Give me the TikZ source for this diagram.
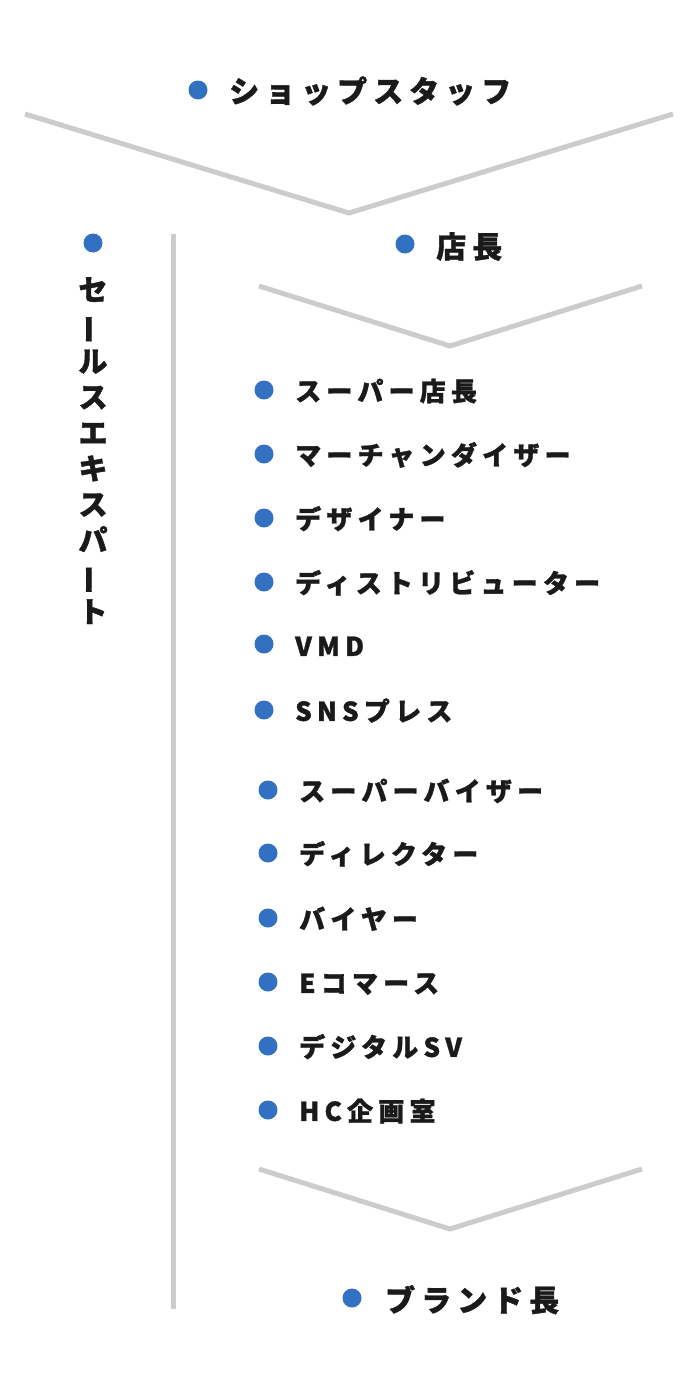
\documentclass[tikz,border=0pt]{standalone}
\usepackage{fontspec}
\newfontfamily\jp{Noto Sans CJK JP}[LetterSpace=20, BoldFeatures={FakeBold=1.2}]
\newfontfamily\jpv{Noto Sans CJK JP}[BoldFeatures={FakeBold=1.2}]
\definecolor{dotblue}{RGB}{50,112,193}
\definecolor{linegray}{RGB}{204,204,204}
\definecolor{ink}{RGB}{26,26,26}
\tikzset{
  dotm/.style={circle, fill=dotblue, minimum size=19pt, inner sep=0pt, draw=none},
  titletext/.style={anchor=west, inner sep=0pt, text=ink, font=\jp\bfseries\fontsize{30}{36}\selectfont, text height=26.4pt, text depth=3.6pt},
  itemtext/.style={anchor=west, inner sep=0pt, text=ink, font=\jp\bfseries\fontsize{26}{31}\selectfont, text height=22.9pt, text depth=3.1pt},
  vtext/.style={anchor=north, inner sep=0pt, text=ink, align=center, font=\jpv\bfseries\fontsize{29}{35.8}\selectfont},
  vline/.style={draw=linegray, line width=5pt, line join=miter},
}
\begin{document}
\begin{tikzpicture}[x=1pt,y=-1pt]
\useasboundingbox (0,0) rectangle (698,1384);
% chevrons
\coordinate (v1l) at (25,114);
\coordinate (v1b) at (349,213);
\coordinate (v1r) at (673,114);
\draw[vline] (v1l) -- (v1b) -- (v1r);
\coordinate (v2l) at (259,286);
\coordinate (v2b) at (450,346);
\coordinate (v2r) at (642,286);
\draw[vline] (v2l) -- (v2b) -- (v2r);
\coordinate (v3l) at (259,1169);
\coordinate (v3b) at (450,1229);
\coordinate (v3r) at (642,1169);
\draw[vline] (v3l) -- (v3b) -- (v3r);
% vertical bar
\coordinate (bt) at (173,234);
\coordinate (bb) at (173,1309);
\draw[vline] (bt) -- (bb);
% titles
\node[dotm] (d0) at (198,90) {};
\node[titletext] (t0) at (229,91) {ショップスタッフ};
\node[dotm] (d1) at (405,244) {};
\node[titletext] (t1) at (436,246.5) {店長};
\node[dotm] (d2) at (352,1298) {};
\node[titletext] (t2) at (385,1300) {ブランド長};
% left vertical label
\node[dotm] (dl) at (93,243) {};
\node[vtext] (vl) at (93,277) {\rule[-3.5pt]{0pt}{25.5pt}セ\\\rotatebox[origin=c]{90}{ー}\\ル\\ス\\エ\\キ\\ス\\パ\\\rotatebox[origin=c]{90}{ー}\\ト};
% list group 1
\node[dotm] (a1) at (264,390) {};
\node[itemtext] (b1) at (295,391) {スーパー店長};
\node[dotm] (a2) at (264,454) {};
\node[itemtext] (b2) at (295,455) {マーチャンダイザー};
\node[dotm] (a3) at (264,518) {};
\node[itemtext] (b3) at (295,519) {デザイナー};
\node[dotm] (a4) at (264,582) {};
\node[itemtext] (b4) at (295,583) {ディストリビューター};
\node[dotm] (a5) at (264,644) {};
\node[itemtext] (b5) at (295,646) {VMD};
\node[dotm] (a6) at (264,710) {};
\node[itemtext] (b6) at (295,711) {SNSプレス};
% list group 2
\node[dotm] (a7) at (268,790) {};
\node[itemtext] (b7) at (299,791) {スーパーバイザー};
\node[dotm] (a8) at (268,853) {};
\node[itemtext] (b8) at (299,854) {ディレクター};
\node[dotm] (a9) at (268,918) {};
\node[itemtext] (b9) at (299,919) {バイヤー};
\node[dotm] (a10) at (268,982) {};
\node[itemtext] (b10) at (299,983) {Eコマース};
\node[dotm] (a11) at (268,1046) {};
\node[itemtext] (b11) at (299,1047) {デジタルSV};
\node[dotm] (a12) at (268,1110) {};
\node[itemtext] (b12) at (299,1111) {HC企画室};
\end{tikzpicture}
\end{document}
